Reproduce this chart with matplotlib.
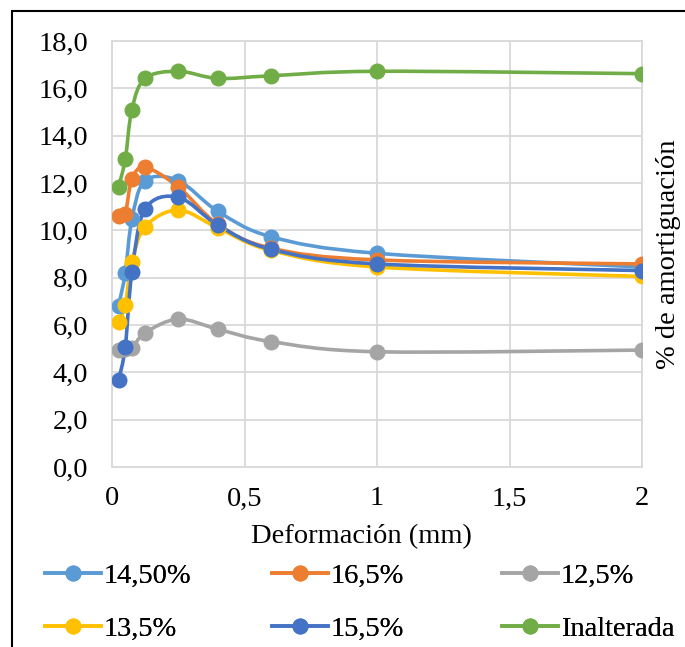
import numpy as np
import matplotlib
matplotlib.use("Agg")
import matplotlib.pyplot as plt
from matplotlib.path import Path
from matplotlib.patches import PathPatch, Rectangle
from matplotlib.lines import Line2D
from matplotlib.ticker import FuncFormatter

plt.rcParams['font.family'] = ['Liberation Serif', 'DejaVu Serif']

# deformation (mm)
deform = [0.025, 0.05, 0.075, 0.125, 0.25, 0.4, 0.6, 1.0, 2.0]

# % de amortiguacion per series
s145 = [6.82, 8.2, 10.46, 12.1, 12.1, 10.8, 9.73, 9.03, 8.45]
s165 = [10.62, 10.7, 12.15, 12.66, 11.84, 10.25, 9.25, 8.75, 8.58]
s125 = [4.95, 5.0, 5.02, 5.67, 6.25, 5.82, 5.3, 4.87, 4.94]
s135 = [6.13, 6.86, 8.65, 10.15, 10.86, 10.1, 9.15, 8.45, 8.05]
s155 = [3.69, 5.06, 8.22, 10.9, 11.4, 10.22, 9.2, 8.58, 8.3]
inalt = [11.85, 13.0, 15.1, 16.42, 16.72, 16.42, 16.53, 16.72, 16.62]

labels = ["14,50%", "16,5%", "12,5%", "13,5%", "15,5%", "Inalterada"]
series = [s145, s165, s125, s135, s155, inalt]
colors = ["#5B9BD5", "#ED7D31", "#A5A5A5", "#FFC000", "#4472C4", "#70AD47"]

FS = 20.5


def smooth_path(x, y):
    # excel-like smoothed line: cubic bezier through the points
    p = np.column_stack([x, y]).astype(float)
    n = len(p)
    verts = [p[0]]
    codes = [Path.MOVETO]
    for i in range(n - 1):
        p0 = p[i - 1] if i > 0 else p[i]
        p3 = p[i + 2] if i + 2 < n else p[i + 1]
        c1 = p[i] + (p[i + 1] - p0) / 6
        c2 = p[i + 1] - (p3 - p[i]) / 6
        verts += [c1, c2, p[i + 1]]
        codes += [Path.CURVE4] * 3
    return Path(verts, codes)


fig = plt.figure(figsize=(6.85, 6.47), dpi=100)
ax = fig.add_axes([112 / 685, 1 - 467 / 647, 530 / 685, 426 / 647])

for vals, c in zip(series, colors):
    ax.add_patch(PathPatch(smooth_path(deform, vals), fill=False,
                           edgecolor=c, lw=2.6, capstyle='round', zorder=3))
    ax.plot(deform, vals, 'o', color=c, ms=10.5, zorder=4)

ax.set_xlim(0, 2)
ax.set_ylim(0, 18)
ax.set_xticks([0, 0.5, 1, 1.5, 2])
ax.set_yticks(np.arange(0, 19, 2))
ax.xaxis.set_major_formatter(FuncFormatter(lambda v, p: ("%g" % v).replace(".", ",")))
ax.yaxis.set_major_formatter(FuncFormatter(lambda v, p: ("%.1f" % v).replace(".", ",")))
ax.grid(True, color="#D9D9D9", lw=1.3)
ax.set_axisbelow(True)
for sp in ax.spines.values():
    sp.set_color("#D9D9D9")
    sp.set_linewidth(1.3)
ax.tick_params(length=0, labelsize=FS)
ax.tick_params(axis='y', pad=17)
ax.tick_params(axis='x', pad=14)
ax.set_xlabel("Deformación (mm)", fontsize=FS, labelpad=4)
ax.xaxis.set_label_coords(0.47, -0.133)
ax.yaxis.set_label_position("right")
ax.set_ylabel("% de amortiguación", fontsize=FS, labelpad=10)

# legend: three equally spaced columns like excel
col_x = [45, 272, 502]
for j, x0 in enumerate(col_x):
    hs = [Line2D([], [], color=colors[k], lw=2.6, marker='o', ms=10.5) for k in (j, j + 3)]
    leg = fig.legend(hs, [labels[j], labels[j + 3]], loc="upper left",
                     bbox_to_anchor=(x0 / 685, 1 - 563 / 647), borderaxespad=0,
                     borderpad=0, frameon=False, fontsize=FS, handlelength=1.95,
                     handletextpad=0.12, labelspacing=0.95)
    fig.add_artist(leg)

# outer frame
fig.patches.append(Rectangle((12 / 685, -0.01), 1.0, 1 - 11 / 647 + 0.01,
                             transform=fig.transFigure, fill=False,
                             edgecolor="black", lw=1.5))

fig.savefig("out.png", dpi=100)
